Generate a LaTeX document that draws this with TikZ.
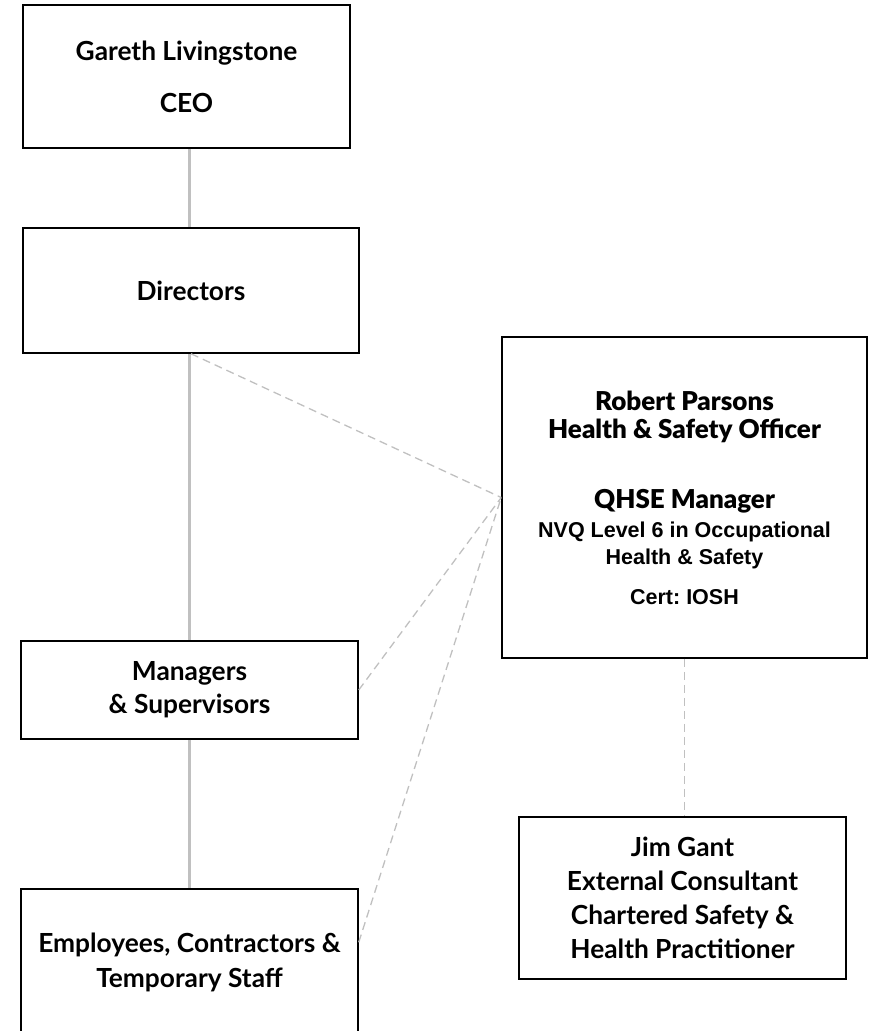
\documentclass[tikz,border=0pt]{standalone}
\usepackage{fontspec}
\setmainfont{Lato}
\newfontfamily\latosemi{Lato Semibold}
\newfontfamily\arialb{Liberation Sans}
\usetikzlibrary{calc}
\definecolor{linegray}{HTML}{C0C0C0}
\frenchspacing
\newcommand{\rpA}{\latosemi\bfseries\fontsize{26}{28}\selectfont}
\newcommand{\rpC}{\arialb\bfseries\fontsize{21.5}{28}\selectfont}
\tikzset{
  box/.style={draw=black, line width=1.5pt, fill=white, rectangle, align=center, inner sep=0pt,
    font=\fontsize{26.3}{34}\selectfont\bfseries},
  solidlink/.style={draw=linegray, line width=3pt},
  dashlink/.style={draw=linegray, line width=1.3pt, dash pattern=on 8pt off 5pt},
}
\begin{document}
\begin{tikzpicture}[x=1pt,y=-1pt]
\useasboundingbox (0,0) rectangle (872,1031);
\node[box, minimum width=327pt, minimum height=143pt] (ceo) at (186.5,76.5)
  {Gareth Livingstone\\[18pt]CEO};
\node[box, minimum width=336pt, minimum height=125pt] (dir) at (191,290.5) {Directors};
\node[box, minimum width=365pt, minimum height=321pt, font=\fontsize{26}{28}\selectfont] (rob) at (684.5,497.5)
  {\rpA Robert Parsons\\\rpA Health \& Safety Officer\\[42pt]
   \rpA QHSE Manager\\[1pt]
   \rpC NVQ Level 6 in Occupational\\[-1pt]\rpC Health \& Safety\\[12pt]
   \rpC Cert: IOSH};
\node[box, minimum width=337pt, minimum height=98pt, font=\fontsize{26.3}{33}\selectfont\bfseries] (mgr) at (189.5,690) {Managers\\\& Supervisors};
\node[box, minimum width=337pt, minimum height=160pt, font=\fontsize{26.3}{35}\selectfont\bfseries] (emp) at (189.5,969)
  {Employees, Contractors \&\\Temporary Staff\\[-17pt]\mbox{}};
\node[box, minimum width=327pt, minimum height=162pt] (jim) at (682.5,898)
  {Jim Gant\\External Consultant\\Chartered Safety \&\\Health Practitioner};
\coordinate (empe) at ($(emp.north east)+(0,54)$);
\draw[solidlink] (mgr.north |- ceo.south) -- (mgr.north |- dir.north);
\draw[solidlink] (mgr.north |- dir.south) -- (mgr.north);
\draw[solidlink] (mgr.south) -- (emp.north);
\draw[dashlink] (dir.south) -- (rob.west);
\draw[dashlink] (mgr.east) -- (rob.west);
\draw[dashlink] (empe) -- (rob.west);
\draw[dashlink] (rob.south) -- (rob.south |- jim.north);
\end{tikzpicture}
\end{document}
